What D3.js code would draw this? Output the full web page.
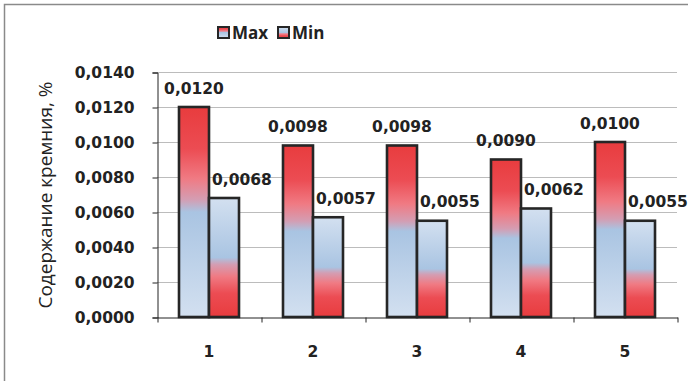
<!DOCTYPE html>
<html>
<head>
<meta charset="utf-8">
<script src="https://cdn.jsdelivr.net/npm/d3@7/dist/d3.min.js"></script>
<style>
  html, body { margin: 0; padding: 0; background: #fff; }
  svg { display: block; }
</style>
</head>
<body>
<svg id="chart" width="688" height="381"></svg>
<script>
// Silicon content per sample, %
const categories = ["1", "2", "3", "4", "5"];
const maxValues = [0.0120, 0.0098, 0.0098, 0.0090, 0.0100];
const minValues = [0.0068, 0.0057, 0.0055, 0.0062, 0.0055];
const seriesNames = ["Max", "Min"];
const yTicks = [0, 0.002, 0.004, 0.006, 0.008, 0.010, 0.012, 0.014];
const yTitle = "Содержание кремния, %";

const svg = d3.select("#chart");
const W = 688, H = 381;
const plot = { left: 157, right: 677, top: 72, bottom: 317 };

const numFont = "'DejaVu Sans', Verdana, sans-serif";
const txtFont = "'Open Sans', 'Noto Sans', sans-serif";
const fmt = v => d3.format(".4f")(v).replace(".", ",");

// Gradients
const defs = svg.append("defs");
function grad(id, stops) {
  const g = defs.append("linearGradient").attr("id", id)
    .attr("x1", 0).attr("y1", 0).attr("x2", 0).attr("y2", 1);
  stops.forEach(([o, c]) => g.append("stop").attr("offset", o).attr("stop-color", c));
}
grad("gMax", [[0, "#e83c3e"], [0.2, "#ec4c53"], [0.34, "#f07a83"], [0.44, "#d49db2"], [0.5, "#a9c4e2"], [1, "#d3e0f0"]]);
grad("gMin", [[0, "#d3e0f0"], [0.5, "#a9c4e2"], [0.56, "#d49db2"], [0.66, "#f07a83"], [0.8, "#ec4c53"], [1, "#e83c3e"]]);
const fills = ["url(#gMax)", "url(#gMin)"];

// Outer frame
svg.append("path")
  .attr("d", `M4.5,${H} V4.5 H${W}`)
  .attr("fill", "none").attr("stroke", "#8a8a8a").attr("stroke-width", 1.5);

// Scales
const y = d3.scaleLinear().domain([0, 0.014]).range([plot.bottom, plot.top]);
const x = d3.scaleBand().domain(categories).range([plot.left, plot.right]).paddingInner(0).paddingOuter(0);
const xb = d3.scaleLinear().domain([0, categories.length]).range([plot.left, plot.right]);
const barW = 30;
const x1 = d3.scaleBand().domain(seriesNames).range([0, barW * 2]);

// Gridlines
svg.append("g").selectAll("line").data(yTicks.filter(d => d > 0)).join("line")
  .attr("x1", plot.left).attr("x2", plot.right)
  .attr("y1", d => Math.round(y(d)) + 0.5).attr("y2", d => Math.round(y(d)) + 0.5)
  .attr("stroke", "#bcbcbc").attr("stroke-width", 1);

// Y axis
const yAxis = svg.append("g").attr("transform", `translate(${plot.left + 0.5},0.5)`)
  .call(d3.axisLeft(y).tickValues(yTicks).tickFormat(fmt).tickSize(5).tickPadding(18));
yAxis.select(".domain").attr("stroke", "#222");
yAxis.selectAll(".tick line").attr("stroke", "#222");
yAxis.selectAll("text").attr("font-family", numFont).attr("font-weight", "bold")
  .attr("font-size", "15.5px").attr("fill", "#222");

// Bars
const data = categories.map((c, i) => ({ cat: c, vals: [maxValues[i], minValues[i]] }));
const groups = svg.append("g").selectAll("g").data(data).join("g")
  .attr("transform", d => `translate(${x(d.cat) + x.bandwidth() / 2 - barW},0)`);
groups.selectAll("rect").data(d => d.vals.map((v, j) => ({ v, j }))).join("rect")
  .attr("x", d => x1(seriesNames[d.j]))
  .attr("width", x1.bandwidth())
  .attr("y", d => y(d.v))
  .attr("height", d => y(0) - y(d.v))
  .attr("fill", d => fills[d.j])
  .attr("stroke", "#262626").attr("stroke-width", 2.6);

// Value labels
groups.selectAll("text").data(d => d.vals.map((v, j) => ({ v, j }))).join("text")
  .attr("x", d => x1(seriesNames[d.j]) + x1.bandwidth() / 2 + (d.j === 1 ? 18 : 0))
  .attr("y", d => y(d.v) - 19)
  .attr("dy", "0.36em")
  .attr("text-anchor", "middle")
  .attr("font-family", numFont).attr("font-weight", "bold")
  .attr("font-size", "15.5px").attr("fill", "#222")
  .text(d => fmt(d.v));

// X axis with boundary ticks
const xAxis = svg.append("g").attr("transform", `translate(0.5,${plot.bottom + 0.5})`)
  .call(d3.axisBottom(xb).tickValues(d3.range(categories.length + 1)).tickFormat("").tickSize(5).tickSizeOuter(0));
xAxis.select(".domain").attr("stroke", "#222");
xAxis.selectAll(".tick line").attr("stroke", "#222");

svg.append("g").selectAll("text").data(categories).join("text")
  .attr("x", d => x(d) + x.bandwidth() / 2)
  .attr("y", 351).attr("dy", "0.36em")
  .attr("text-anchor", "middle")
  .attr("font-family", numFont).attr("font-weight", "bold")
  .attr("font-size", "15.5px").attr("fill", "#222")
  .text(d => d);

// Y title
svg.append("text")
  .attr("transform", "translate(45,195) rotate(-90)")
  .attr("text-anchor", "middle").attr("dy", "0.35em")
  .attr("font-family", txtFont).attr("font-size", "19px").attr("fill", "#222")
  .text(yTitle);

// Legend
const legend = svg.append("g");
const legX = [218, 278];
seriesNames.forEach((s, i) => {
  const g = legend.append("g").attr("transform", `translate(${legX[i]},27)`);
  g.append("rect").attr("width", 11).attr("height", 11)
    .attr("fill", fills[i]).attr("stroke", "#262626").attr("stroke-width", 2);
  g.append("text").attr("x", 14).attr("y", 5.5).attr("dy", "0.36em")
    .attr("font-family", txtFont).attr("font-weight", "bold")
    .attr("font-size", "17px").attr("fill", "#222").text(s);
});
</script>
</body>
</html>
